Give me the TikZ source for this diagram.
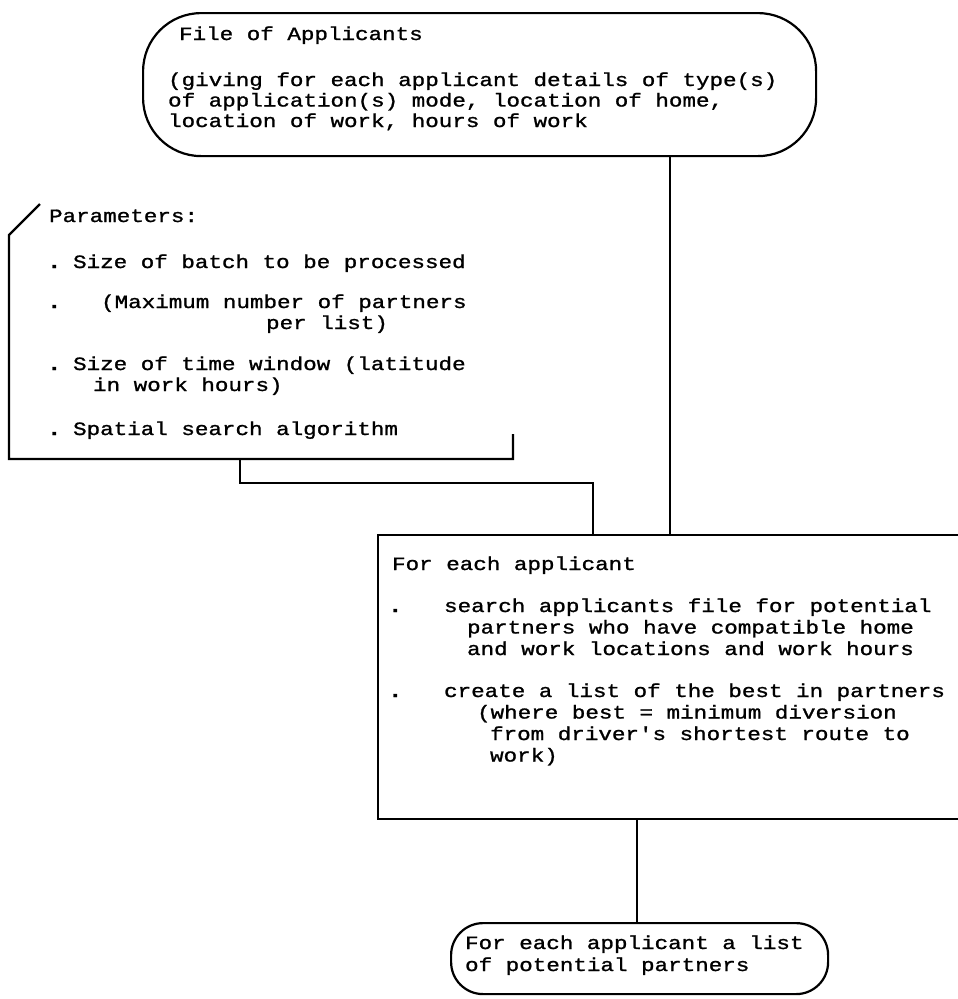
\documentclass[tikz,border=0pt]{standalone}
\usepackage{fontspec}
\setmonofont{Liberation Mono}[FakeBold=1.2,FakeStretch=1.2]
\usetikzlibrary{backgrounds}
\begin{document}
\begin{tikzpicture}[x=1pt,y=-1pt,line width=2.2pt,
  tt/.style={font=\ttfamily\fontsize{18.8}{21}\selectfont,inner sep=0pt,anchor=base west},
  term/.style={draw,fill=white,rounded corners=#1,inner sep=0pt,anchor=north west},
  bul/.style={font=\ttfamily\bfseries\fontsize{20}{21}\selectfont,inner sep=0pt,anchor=base west},
  link/.style={line width=2.2pt}]
\useasboundingbox (0,0) rectangle (958,999);

% top terminal
\node[term=58pt,minimum width=673pt,minimum height=143pt] (file) at (142,12) {};
\node[tt] (f1) at (178,40) {File of Applicants};
\node[tt] (f2) at (167,86) {(giving for each applicant details of type(s)};
\node[tt] (f3) at (167,106.5) {of application(s) mode, location of home,};
\node[tt] (f4) at (167,127) {location of work, hours of work};

% parameters card
\coordinate (pa) at (40,204);
\coordinate (pb) at (9,235);
\coordinate (pc) at (9,459);
\coordinate (pd) at (513,459);
\coordinate (pe) at (513,434);
\draw (pa) -- (pb) -- (pc) -- (pd) -- (pe);
\coordinate (pout) at (240,459);
\node[tt] (p0) at (48,222) {Parameters:};
\node[bul] (b1) at (46,268) {.};
\node[tt] (p1) at (72,268) {Size of batch to be processed};
\node[bul] (b2) at (46,308) {.};
\node[tt] (p2) at (100,308) {(Maximum number of partners};
\node[tt] (p3) at (265,329) {per list)};
\node[bul] (b3) at (46,370) {.};
\node[tt] (p4) at (72,370) {Size of time window (latitude};
\node[tt] (p5) at (92,391) {in work hours)};
\node[bul] (b4) at (46,435) {.};
\node[tt] (p6) at (72,435) {Spatial search algorithm};

% process box
\node[minimum width=580pt,minimum height=282pt,inner sep=0pt,anchor=north west] (proc) at (378,535) {};
\draw (proc.north east) -- (proc.north west) -- (proc.south west) -- (proc.south east);
\node[tt] (q0) at (391,570) {For each applicant};
\node[bul] (c1) at (387,612) {.};
\node[tt] (q1) at (443,612) {search applicants file for potential};
\node[tt] (q2) at (466,633.5) {partners who have compatible home};
\node[tt] (q3) at (466,655) {and work locations and work hours};
\node[bul] (c2) at (387,697) {.};
\node[tt] (q4) at (443,697) {create a list of the best in partners};
\node[tt] (q5) at (476,718.5) {(where best = minimum diversion};
\node[tt] (q6) at (489,740) {from driver's shortest route to};
\node[tt] (q7) at (489,761.5) {work)};

% bottom terminal
\node[term=32pt,minimum width=377pt,minimum height=71pt] (out) at (450,922) {};
\node[tt] (o1) at (464,949) {For each applicant a list};
\node[tt] (o2) at (464,971) {of potential partners};

% connectors
\begin{scope}[on background layer]
\fill[white] (0,0) rectangle (958,999);
\draw[link] (file.center -| 670,0) -- (proc.north -| 670,0);
\draw[link] (pout) -- ++(0,24) -| (proc.north -| 593,0);
\draw[link] (proc.south -| 637,0) -- (out.center -| 637,0);
\end{scope}
\end{tikzpicture}
\end{document}
